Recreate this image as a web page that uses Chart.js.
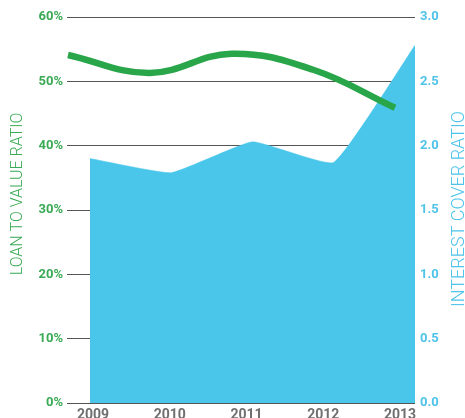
<!DOCTYPE html>
<html><head><meta charset="utf-8">
<script src="https://cdn.jsdelivr.net/npm/chart.js@4/dist/chart.umd.min.js"></script>
<style>html,body{margin:0;padding:0;background:#fff;overflow:hidden}</style>
</head><body>
<canvas id="c" width="465" height="418"></canvas>
<script>
// ---- data ----
const years = [2009, 2010, 2011, 2012, 2013];
const yearLabels = ['2009', '2010', '2011', '2012', '2013'];
const loanToValue = [54.1, 51.3, 54.3, 51.8, 45.9];     // % (left axis)
const interestCover = [1.90, 1.79, 2.03, 1.87, 2.78];   // ratio (right axis)
const leftTitle = 'LOAN TO VALUE RATIO';
const rightTitle = 'INTEREST COVER RATIO';

// ---- styles ----
const GREEN = '#29a64a';
const GREEN_TEXT = '#3aaa55';
const BLUE = '#4ac6ea';
const BLUE_TEXT = '#4fc3ea';
const GRID = '#555555';
const GREY_TEXT = '#6f6f6f';

const sideTitles = {
  id: 'sideTitles',
  afterDraw(chart) {
    const ctx = chart.ctx;
    ctx.save();
    ctx.font = '300 16px Roboto';
    ctx.textAlign = 'center';
    ctx.textBaseline = 'middle';
    ctx.fillStyle = GREEN_TEXT;
    ctx.translate(18, 194);
    ctx.rotate(-Math.PI / 2);
    ctx.fillText(leftTitle, 0, 0, 164);
    ctx.restore();
    ctx.save();
    ctx.font = '300 18px Roboto';
    ctx.textAlign = 'center';
    ctx.textBaseline = 'middle';
    ctx.fillStyle = BLUE_TEXT;
    ctx.translate(459, 209);
    ctx.rotate(-Math.PI / 2);
    ctx.fillText(rightTitle, 0, 0, 202);
    ctx.restore();
  }
};

new Chart(document.getElementById('c'), {
  data: {
    datasets: [
      {
        type: 'line',
        data: years.map((x, i) => ({ x, y: loanToValue[i] })),
        xAxisID: 'xLine', yAxisID: 'y',
        borderColor: GREEN, borderWidth: 6.5, tension: 0.4,
        pointRadius: 0, fill: false, order: 0
      },
      {
        type: 'line',
        data: years.map((x, i) => ({ x, y: interestCover[i] })),
        xAxisID: 'xArea', yAxisID: 'y2',
        borderColor: BLUE, backgroundColor: BLUE, borderWidth: 0.5,
        tension: 0.12, pointRadius: 0, fill: 'origin', order: 1
      }
    ]
  },
  options: {
    responsive: false,
    animation: false,
    devicePixelRatio: 1,
    layout: { padding: { top: 17, left: 0, right: 0, bottom: 0 } },
    plugins: { legend: { display: false }, tooltip: { enabled: false } },
    scales: {
      xArea: { type: 'linear', display: false, min: 2008.717, max: 2013 },
      xLine: { type: 'linear', display: false, min: 2008.988, max: 2013.245 },
      xTicks: {
        type: 'linear', position: 'bottom', min: 2008.661, max: 2013.196,
        grid: { display: false, drawTicks: false }, border: { display: false },
        ticks: {
          stepSize: 1, includeBounds: false, maxRotation: 0, autoSkip: false, padding: 4,
          color: GREY_TEXT, font: { family: 'Roboto', weight: 'bold', size: 14 },
          callback: v => { const i = years.indexOf(Math.round(v)); return i >= 0 ? yearLabels[i] : ''; }
        },
        afterFit: s => { s.height = 15; }
      },
      y: {
        position: 'left', min: 0, max: 60,
        grid: { color: GRID, lineWidth: 1, drawTicks: false }, border: { display: false },
        ticks: {
          stepSize: 10, padding: 4, color: GREEN_TEXT,
          font: { family: 'Roboto', weight: 'bold', size: 13 },
          callback: v => v + '%'
        },
        afterFit: s => { s.width = 67; }
      },
      y2: {
        position: 'right', min: 0, max: 3,
        grid: { display: false, drawTicks: false }, border: { display: false },
        ticks: {
          stepSize: 0.5, padding: 5, color: BLUE_TEXT,
          font: { family: 'Roboto', weight: 'bold', size: 13 },
          callback: v => v.toFixed(1)
        },
        afterFit: s => { s.width = 50; }
      }
    }
  },
  plugins: [sideTitles]
});
</script>
</body></html>
